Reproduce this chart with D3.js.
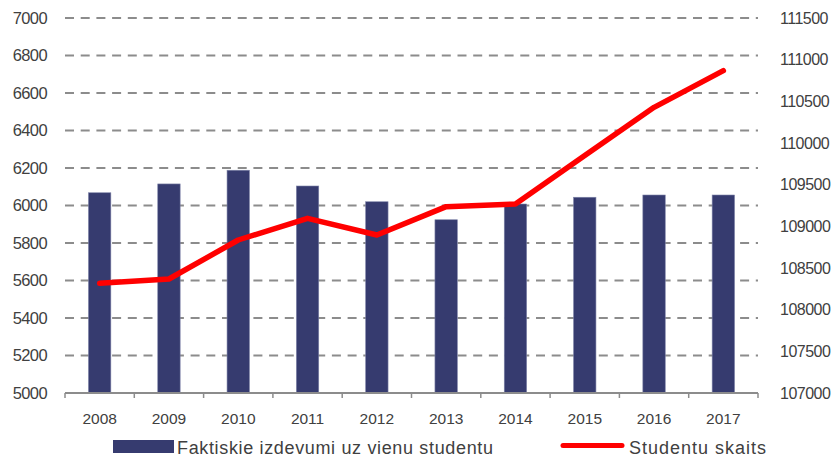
<!DOCTYPE html>
<html><head><meta charset="utf-8">
<script src="https://cdn.jsdelivr.net/npm/d3@7"></script>
<style>
html,body{margin:0;padding:0;background:#fff;}
svg{display:block;font-family:"Liberation Sans",Arial,sans-serif;}
</style></head>
<body>
<svg id="chart" width="834" height="458"></svg>
<script>
const years = ["2008","2009","2010","2011","2012","2013","2014","2015","2016","2017"];
const spending = [6068,6115,6188,6104,6020,5924,6008,6044,6056,6056];
const students = [108316,108368,108836,109096,108896,109236,109268,109850,110428,110868];
const leftTicks = [5000,5200,5400,5600,5800,6000,6200,6400,6600,6800,7000];
const rightTicks = [107000,107500,108000,108500,109000,109500,110000,110500,111000,111500];
const seriesNames = ["Faktiskie izdevumi uz vienu studentu","Studentu skaits"];

(function(){
const svg = d3.select("#chart");
const pL = 65, pR = 758, pT = 18, pB = 393;

const xb = d3.scaleBand().domain(years).range([pL, pR]);
const yL = d3.scaleLinear().domain([5000,7000]).range([pB, pT]);
const yR = d3.scaleLinear().domain([107000,111500]).range([pB, pT]);

// gridlines
svg.append("g").selectAll("line").data(leftTicks.filter(d=>d>5000)).join("line")
  .attr("x1", pL).attr("x2", pR)
  .attr("y1", d=>yL(d)).attr("y2", d=>yL(d))
  .attr("stroke","#8c8c8c").attr("stroke-width",2).attr("stroke-dasharray","9,6.7");

// bars
svg.append("g").selectAll("rect").data(years).join("rect")
  .attr("x", d=>xb(d)+xb.bandwidth()/2-11.2)
  .attr("width", 22.4)
  .attr("y", (d,i)=>yL(spending[i]))
  .attr("height", (d,i)=>pB-yL(spending[i]))
  .attr("fill","#363b6f")
  .attr("stroke","#7f84a8").attr("stroke-width",0.6);

// x axis
const xAxis = svg.append("g").attr("transform",`translate(0,${pB})`)
  .call(d3.axisBottom(xb).tickSize(0).tickPadding(0));
xAxis.select(".domain").remove();
xAxis.selectAll("text").attr("dy",null).attr("y",31)
  .attr("font-size","15.5px").attr("fill","#404040").attr("font-family","Liberation Sans, Arial, sans-serif");
svg.append("line").attr("x1",pL).attr("x2",pR).attr("y1",pB).attr("y2",pB)
  .attr("stroke","#8c8c8c").attr("stroke-width",2);
const bounds = years.map(d=>xb(d)).concat([pR]);
svg.append("g").selectAll("line").data(bounds).join("line")
  .attr("x1",d=>d).attr("x2",d=>d).attr("y1",pB).attr("y2",pB+5)
  .attr("stroke","#8c8c8c").attr("stroke-width",1.5);

// left axis
const yAxisL = svg.append("g").attr("transform",`translate(47,0)`)
  .call(d3.axisLeft(yL).tickValues(leftTicks).tickSize(0).tickPadding(0).tickFormat(d3.format("d")));
yAxisL.select(".domain").remove();
yAxisL.selectAll("text").attr("font-size","16.5px").attr("fill","#404040")
  .attr("letter-spacing","-0.6px").attr("font-family","Liberation Sans, Arial, sans-serif");

// right axis
const yAxisR = svg.append("g").attr("transform",`translate(780,0)`)
  .call(d3.axisRight(yR).tickValues(rightTicks).tickSize(0).tickPadding(0).tickFormat(d3.format("d")));
yAxisR.select(".domain").remove();
yAxisR.selectAll("text").attr("font-size","16px").attr("fill","#404040")
  .attr("letter-spacing","-0.5px").attr("font-family","Liberation Sans, Arial, sans-serif");

// line
const line = d3.line().x((d,i)=>xb(years[i])+xb.bandwidth()/2).y(d=>yR(d));
svg.append("path").datum(students).attr("d", line)
  .attr("fill","none").attr("stroke","#ff0000").attr("stroke-width",5.5)
  .attr("stroke-linecap","round").attr("stroke-linejoin","round");

// legend
const lg = svg.append("g");
lg.append("rect").attr("x",113).attr("y",440).attr("width",61).attr("height",13).attr("fill","#363b6f");
lg.append("text").attr("x",177).attr("y",453.5).text(seriesNames[0])
  .attr("font-size","18px").attr("fill","#404040")
  .attr("textLength",316).attr("lengthAdjust","spacing");
lg.append("line").attr("x1",563).attr("x2",622).attr("y1",445.5).attr("y2",445.5)
  .attr("stroke","#ff0000").attr("stroke-width",5).attr("stroke-linecap","round");
lg.append("text").attr("x",629).attr("y",453.5).text(seriesNames[1])
  .attr("font-size","18px").attr("fill","#404040")
  .attr("textLength",137).attr("lengthAdjust","spacing");
})();
</script>
</body></html>
